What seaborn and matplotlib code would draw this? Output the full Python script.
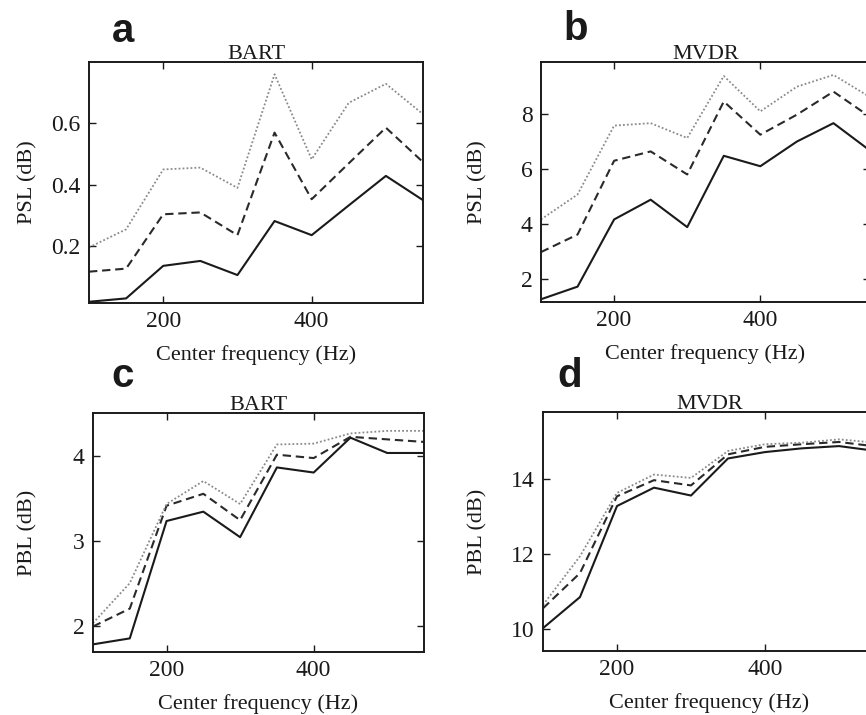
import matplotlib
matplotlib.use("Agg")
import matplotlib.pyplot as plt
import pandas as pd
import seaborn as sns

freq = [100, 150, 200, 250, 300, 350, 400, 450, 500, 550]

# Panel a: BART, PSL (dB)
bart_psl_solid  = [0.019, 0.03, 0.136, 0.152, 0.106, 0.282, 0.236, 0.333, 0.429, 0.35]
bart_psl_dashed = [0.117, 0.127, 0.304, 0.31, 0.236, 0.57, 0.353, 0.47, 0.586, 0.474]
bart_psl_dotted = [0.196, 0.255, 0.45, 0.456, 0.39, 0.76, 0.483, 0.667, 0.729, 0.63]

# Panel b: MVDR, PSL (dB)
mvdr_psl_solid  = [1.25, 1.71, 4.16, 4.88, 3.88, 6.48, 6.10, 7.0, 7.67, 6.67]
mvdr_psl_dashed = [2.97, 3.61, 6.3, 6.64, 5.8, 8.46, 7.25, 7.98, 8.82, 7.9]
mvdr_psl_dotted = [4.16, 5.07, 7.58, 7.67, 7.13, 9.39, 8.1, 9.0, 9.43, 8.62]

# Panel c: BART, PBL (dB)
bart_pbl_solid  = [1.78, 1.85, 3.23, 3.34, 3.04, 3.86, 3.80, 4.21, 4.03, 4.03]
bart_pbl_dashed = [1.99, 2.20, 3.41, 3.55, 3.24, 4.01, 3.97, 4.22, 4.19, 4.16]
bart_pbl_dotted = [2.03, 2.50, 3.43, 3.70, 3.43, 4.13, 4.14, 4.26, 4.29, 4.29]

# Panel d: MVDR, PBL (dB)
mvdr_pbl_solid  = [10.03, 10.86, 13.29, 13.78, 13.57, 14.56, 14.73, 14.83, 14.89, 14.76]
mvdr_pbl_dashed = [10.56, 11.5, 13.55, 13.98, 13.84, 14.67, 14.87, 14.94, 15.0, 14.88]
mvdr_pbl_dotted = [10.65, 11.95, 13.64, 14.13, 14.04, 14.76, 14.94, 14.98, 15.07, 14.98]

panel_letters = ["a", "b", "c", "d"]
panel_titles = ["BART", "MVDR", "BART", "MVDR"]
panel_ylabels = ["PSL (dB)", "PSL (dB)", "PBL (dB)", "PBL (dB)"]
xlabel = "Center frequency (Hz)"
xticks = [200, 400]
yticks_list = [[0.2, 0.4, 0.6], [2, 4, 6, 8], [2, 3, 4], [10, 12, 14]]
ylims = [(0.015, 0.80), (1.15, 9.9), (1.69, 4.5), (9.42, 15.8)]

series = [
    (bart_psl_solid, bart_psl_dashed, bart_psl_dotted),
    (mvdr_psl_solid, mvdr_psl_dashed, mvdr_psl_dotted),
    (bart_pbl_solid, bart_pbl_dashed, bart_pbl_dotted),
    (mvdr_pbl_solid, mvdr_pbl_dashed, mvdr_pbl_dotted),
]

sns.set_style("ticks")
plt.rcParams["font.family"] = ["Liberation Serif", "DejaVu Serif"]

fig = plt.figure(figsize=(8.66, 7.15), dpi=100)

W, H = 866, 715
# axes boxes in pixels: left, top, right, bottom
boxes = [
    (89, 62, 423, 303),
    (541, 62, 870, 302),
    (93, 413, 424, 652),
    (543, 412, 876, 651),
]
letter_pos = [(112, 42), (563, 40), (111, 387), (557, 387)]
ylabel_x = [-0.153, -0.164, -0.169, -0.168]

styles = [
    dict(linestyle="-", color="#1a1a1a", linewidth=1.5),
    dict(linestyle=(0, (4.0, 2.3)), color="#2a2a2a", linewidth=1.5),
    dict(linestyle=(0, (1, 1.2)), color="#8a8a8a", linewidth=1.3),
]

for i, (l, t, r, b) in enumerate(boxes):
    ax = fig.add_axes([l / W, 1 - b / H, (r - l) / W, (b - t) / H])
    for vals, st in zip(series[i], styles):
        df = pd.DataFrame({"freq": freq, "val": vals})
        sns.lineplot(data=df, x="freq", y="val", ax=ax, legend=False, **st)
    ax.set_xlim(100, 550)
    ax.set_ylim(*ylims[i])
    ax.set_xticks(xticks)
    ax.set_yticks(yticks_list[i])
    ax.set_xticklabels([str(v) for v in xticks])
    ax.set_yticklabels([("%g" % v) for v in yticks_list[i]])
    ax.tick_params(direction="in", length=5, width=1.0, top=True, right=True,
                   labelsize=17, colors="#1a1a1a", pad=6)
    for sp in ax.spines.values():
        sp.set_visible(True)
        sp.set_linewidth(1.4)
        sp.set_color("#1a1a1a")
    ax.set_title(panel_titles[i], fontsize=16, pad=2, color="#1a1a1a")
    ax.set_xlabel(xlabel, fontsize=16, color="#1a1a1a", labelpad=9)
    ax.set_ylabel(panel_ylabels[i], fontsize=16, color="#1a1a1a")
    ax.yaxis.set_label_coords(ylabel_x[i], 0.5)
    lx, ly = letter_pos[i]
    fig.text(lx / W, 1 - ly / H, panel_letters[i], fontsize=29, fontweight="bold",
             family=["Liberation Sans", "DejaVu Sans"], ha="left", va="baseline",
             color="#1a1a1a")

fig.savefig("out.png", dpi=100)
